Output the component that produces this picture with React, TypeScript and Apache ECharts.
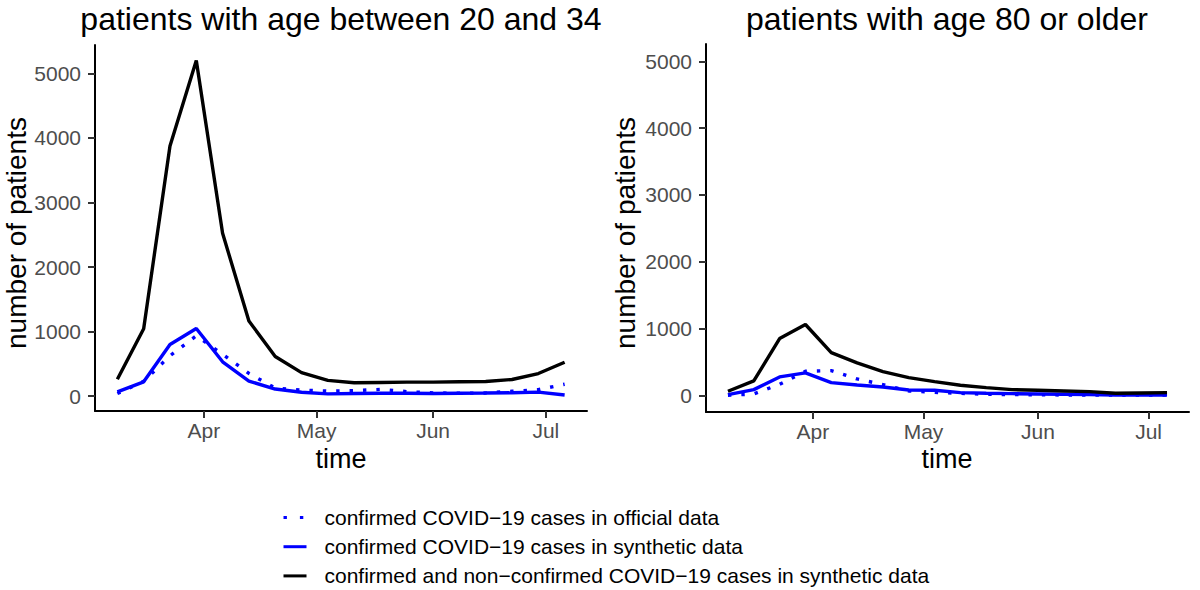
import React, { useEffect, useRef } from 'react';
import * as echarts from 'echarts';

// ---- data ----
const weeks = [
  '2020-03-09', '2020-03-16', '2020-03-23', '2020-03-30', '2020-04-06', '2020-04-13',
  '2020-04-20', '2020-04-27', '2020-05-04', '2020-05-11', '2020-05-18', '2020-05-25',
  '2020-06-01', '2020-06-08', '2020-06-15', '2020-06-22', '2020-06-29', '2020-07-06',
];
const monthTicks = ['2020-04-01', '2020-05-01', '2020-06-01', '2020-07-01'];
const monthLabels = ['Apr', 'May', 'Jun', 'Jul'];
const yTicks = [0, 1000, 2000, 3000, 4000, 5000];

// patients with age between 20 and 34
const youngOfficial = [40, 230, 625, 935, 650, 352, 125, 95, 78, 85, 105, 70, 50, 45, 50, 75, 100, 185];
const youngSynthetic = [67, 222, 801, 1049, 532, 233, 110, 60, 35, 42, 45, 45, 42, 45, 48, 52, 62, 18];
const youngTotal = [262, 1045, 3876, 5199, 2522, 1165, 615, 365, 245, 207, 212, 217, 217, 222, 227, 258, 350, 525];

// patients with age 80 or older
const oldOfficial = [0, 20, 165, 360, 370, 245, 160, 65, 45, 30, 15, 10, 8, 5, 5, 3, 2, 2];
const oldSynthetic = [10, 85, 275, 335, 190, 155, 125, 80, 75, 40, 30, 25, 20, 15, 10, 5, 5, 5];
const oldTotal = [60, 215, 850, 1060, 640, 485, 355, 265, 205, 150, 115, 85, 75, 65, 55, 30, 35, 40];

const seriesNames = [
  'confirmed COVID\u221219 cases in official data',
  'confirmed COVID\u221219 cases in synthetic data',
  'confirmed and non\u2212confirmed COVID\u221219 cases in synthetic data',
];
const panelTitles = ['patients with age between 20 and 34', 'patients with age 80 or older'];
const xTitle = 'time';
const yTitle = 'number of patients';

const FONT = '"Liberation Sans", Arial, Helvetica, sans-serif';
const DAY = 86400000;

// days since 2020-03-01
function toDay(s: string): number {
  const [y, m, d] = s.split('-').map(Number);
  return Math.round((Date.UTC(y, m - 1, d) - Date.UTC(2020, 2, 1)) / DAY);
}

export default function App() {
  const ref = useRef<HTMLDivElement>(null);

  useEffect(() => {
    if (!ref.current) return;
    const chart = echarts.init(ref.current, undefined, { renderer: 'svg' });

    const days = weeks.map(toDay);
    const t0 = days[0];
    const t1 = days[days.length - 1];
    const pad = (t1 - t0) * 0.05;
    const xMin = t0 - pad;
    const xMax = t1 + pad;
    const tickDays = monthTicks.map(toDay);
    const monthFmt = (v: number) => {
      for (let i = 0; i < tickDays.length; i++) {
        if (Math.abs(tickDays[i] - v) < 0.5) return monthLabels[i];
      }
      return '';
    };

    const panels = [
      { official: youngOfficial, synthetic: youngSynthetic, total: youngTotal, yMin: -230, yMax: 5440 },
      { official: oldOfficial, synthetic: oldSynthetic, total: oldTotal, yMin: -250, yMax: 5260 },
    ];

    const grids = [
      { left: 95, top: 45, width: 492, height: 366 },
      { left: 706, top: 44, width: 483, height: 368 },
    ];

    const xAxes = panels.map((_, i) => ({
      type: 'value',
      gridIndex: i,
      min: xMin,
      max: xMax,
      axisLine: { show: true, onZero: false, lineStyle: { color: '#000', width: 2 } },
      axisTick: { show: true, length: 7, customValues: tickDays, lineStyle: { color: '#333', width: 2 } },
      axisLabel: {
        show: true,
        customValues: tickDays,
        formatter: monthFmt,
        color: '#4d4d4d',
        fontSize: 21,
        fontFamily: FONT,
        margin: 9,
      },
      splitLine: { show: false },
      minorTick: { show: false },
    }));

    const yAxes = panels.map((p, i) => ({
      type: 'value',
      gridIndex: i,
      min: p.yMin,
      max: p.yMax,
      axisLine: { show: true, onZero: false, lineStyle: { color: '#000', width: 2 } },
      axisTick: { show: true, length: 7, customValues: yTicks, lineStyle: { color: '#333', width: 2 } },
      axisLabel: {
        show: true,
        customValues: yTicks,
        formatter: (v: number) => String(v),
        color: '#4d4d4d',
        fontSize: 21,
        fontFamily: FONT,
        margin: 14,
      },
      splitLine: { show: false },
    }));

    const LW = 3.4;
    const series: any[] = [];
    panels.forEach((p, i) => {
      const mk = (arr: number[]) => days.map((t, k) => [t, arr[k]]);
      series.push({
        type: 'line', name: seriesNames[0], xAxisIndex: i, yAxisIndex: i,
        data: mk(p.official), symbol: 'none', color: '#0000ff',
        lineStyle: { color: '#0000ff', width: LW, type: [3.4, 10], cap: 'butt' },
        z: 2,
      });
      series.push({
        type: 'line', name: seriesNames[1], xAxisIndex: i, yAxisIndex: i,
        data: mk(p.synthetic), symbol: 'none', color: '#0000ff',
        lineStyle: { color: '#0000ff', width: LW, type: 'solid' },
        z: 3,
      });
      series.push({
        type: 'line', name: seriesNames[2], xAxisIndex: i, yAxisIndex: i,
        data: mk(p.total), symbol: 'none', color: '#000000',
        lineStyle: { color: '#000000', width: LW, type: 'solid' },
        z: 4,
      });
    });

    const graphic: any[] = [
      { type: 'text', x: 341, y: 19, style: { text: panelTitles[0], fontSize: 32, fontFamily: FONT, fill: '#000', align: 'center', verticalAlign: 'middle' } },
      { type: 'text', x: 947, y: 19, style: { text: panelTitles[1], fontSize: 32, fontFamily: FONT, fill: '#000', align: 'center', verticalAlign: 'middle' } },
      { type: 'text', x: 341, y: 459, style: { text: xTitle, fontSize: 27, fontFamily: FONT, fill: '#000', align: 'center', verticalAlign: 'middle' } },
      { type: 'text', x: 947, y: 459, style: { text: xTitle, fontSize: 27, fontFamily: FONT, fill: '#000', align: 'center', verticalAlign: 'middle' } },
      { type: 'text', x: 16, y: 233, rotation: Math.PI / 2, style: { text: yTitle, fontSize: 28, fontFamily: FONT, fill: '#000', align: 'center', verticalAlign: 'middle' } },
      { type: 'text', x: 625, y: 233, rotation: Math.PI / 2, style: { text: yTitle, fontSize: 28, fontFamily: FONT, fill: '#000', align: 'center', verticalAlign: 'middle' } },
    ];

    chart.setOption({
      animation: false,
      backgroundColor: '#ffffff',
      textStyle: { fontFamily: FONT },
      grid: grids.map((g) => ({ ...g, containLabel: false, outerBoundsMode: 'none' })),
      xAxis: xAxes,
      yAxis: yAxes,
      series,
      legend: {
        orient: 'vertical',
        left: 282,
        top: 507,
        padding: 0,
        itemWidth: 23,
        itemHeight: 21,
        itemGap: 8.2,
        selectedMode: false,
        itemStyle: { opacity: 0 },
        data: [
          { name: seriesNames[0], lineStyle: { type: [3.4, 13], width: 3, color: '#0000ff' } },
          { name: seriesNames[1], lineStyle: { width: 3, color: '#0000ff' } },
          { name: seriesNames[2], lineStyle: { width: 3, color: '#000000' } },
        ],
        textStyle: { fontSize: 21, color: '#000', fontFamily: FONT, padding: [0, 0, 0, 13] },
      },
      graphic,
    } as any);

    return () => chart.dispose();
  }, []);

  return <div ref={ref} style={{ position: 'absolute', left: 0, top: 0, width: 1200, height: 590 }} />;
}
